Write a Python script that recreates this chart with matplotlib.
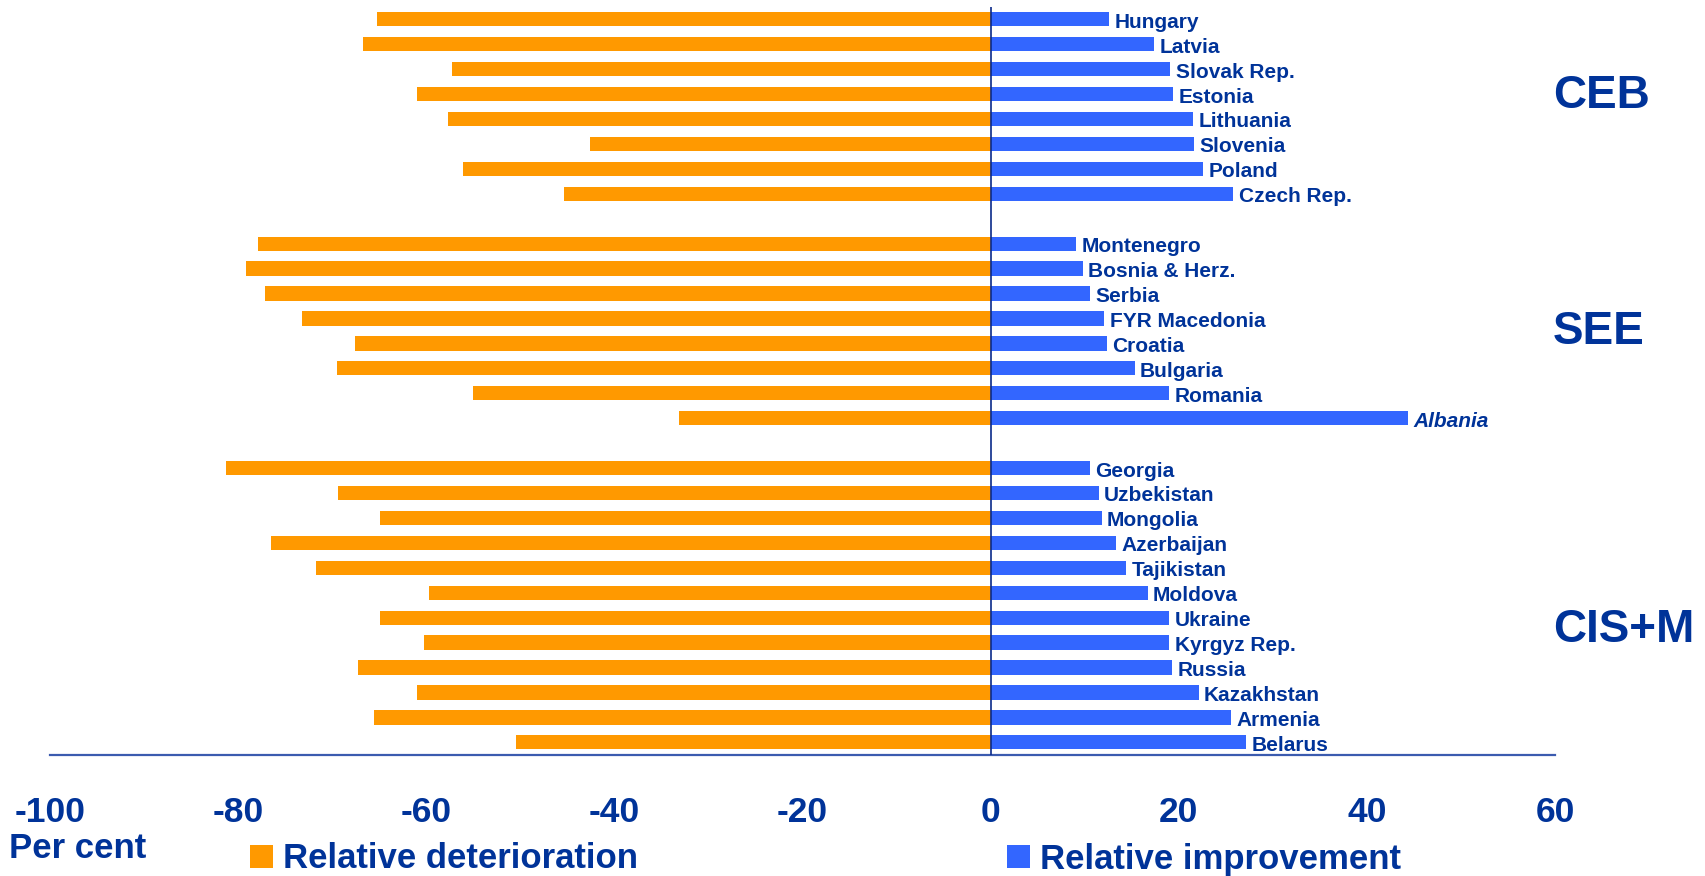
import matplotlib
matplotlib.use("Agg")
import matplotlib.pyplot as plt
import numpy as np

# ---- data ----
ceb_countries = ["Hungary", "Latvia", "Slovak Rep.", "Estonia", "Lithuania",
                 "Slovenia", "Poland", "Czech Rep."]
ceb_det = [-65.2, -66.7, -57.3, -61.0, -57.7, -42.6, -56.1, -45.4]
ceb_imp = [12.6, 17.4, 19.1, 19.4, 21.5, 21.6, 22.6, 25.8]

see_countries = ["Montenegro", "Bosnia & Herz.", "Serbia", "FYR Macedonia",
                 "Croatia", "Bulgaria", "Romania", "Albania"]
see_det = [-77.9, -79.2, -77.1, -73.2, -67.6, -69.5, -55.0, -33.1]
see_imp = [9.1, 9.8, 10.6, 12.1, 12.4, 15.3, 19.0, 44.4]

cis_countries = ["Georgia", "Uzbekistan", "Mongolia", "Azerbaijan", "Tajikistan",
                 "Moldova", "Ukraine", "Kyrgyz Rep.", "Russia", "Kazakhstan",
                 "Armenia", "Belarus"]
cis_det = [-81.3, -69.4, -64.9, -76.5, -71.7, -59.7, -64.9, -60.2, -67.3,
           -61.0, -65.6, -50.5]
cis_imp = [10.6, 11.5, 11.8, 13.3, 14.4, 16.7, 19.0, 19.0, 19.3, 22.1, 25.6, 27.2]

regions = ["CEB", "SEE", "CIS+M"]
italic_countries = ["Albania"]
xtick_values = [-100, -80, -60, -40, -20, 0, 20, 40, 60]
legend_labels = ["Relative deterioration", "Relative improvement"]
unit_label = "Per cent"

# ---- styling ----
ORANGE = "#FF9900"
BLUE = "#3366FF"
TEXT = "#003399"
plt.rcParams["font.family"] = ["Liberation Sans", "DejaVu Sans"]
plt.rcParams["font.weight"] = "bold"

W, H = 1705, 876
fig = plt.figure(figsize=(W / 100, H / 100), dpi=100)
ax = fig.add_axes([50 / W, 1 - 754.8 / H, 1505 / W, 748 / H])

groups = [(ceb_countries, ceb_det, ceb_imp),
          (see_countries, see_det, see_imp),
          (cis_countries, cis_det, cis_imp)]

names, det, imp, pos = [], [], [], []
start = 0
for cs, d, i in groups:
    names += cs
    det += d
    imp += i
    pos += list(range(start, start + len(cs)))
    start += len(cs) + 1

bh = 0.57
b_neg = ax.barh(pos, det, height=bh, color=ORANGE, zorder=2)
b_pos = ax.barh(pos, imp, height=bh, color=BLUE, zorder=2)

for p, v, n in zip(pos, imp, names):
    ax.annotate(n, xy=(v, p), xytext=(3.8, -6.1), textcoords="offset points",
                ha="left", va="baseline", fontsize=15, color=TEXT,
                fontweight="bold",
                fontstyle="italic" if n in italic_countries else "normal")

ax.axvline(0, color="#0A2A8A", lw=1.2, zorder=3)

region_rows = [3.54, 13.04, 24.96]
for r, y in zip(regions, region_rows):
    ax.text(59.8, y, r, ha="left", va="baseline", fontsize=33,
            color=TEXT, fontweight="bold", clip_on=False)

ax.set_xlim(-100, 60)
ax.set_ylim(29.5, -0.5)
ax.set_yticks([])
ax.set_xticks(xtick_values)
ax.set_xticklabels([str(v) for v in xtick_values], fontsize=25.5,
                   color=TEXT, fontweight="bold")
ax.tick_params(axis="x", length=0, pad=30)
for s in ["top", "right", "left"]:
    ax.spines[s].set_visible(False)
ax.spines["bottom"].set_color("#3B5BAF")
ax.spines["bottom"].set_linewidth(1.6)
ax.patch.set_alpha(0)

fig.text(9 / W, 1 - 858 / H, unit_label, ha="left", va="baseline",
         fontsize=25, color=TEXT, fontweight="bold")

leg_kw = dict(loc="center left", frameon=False, borderpad=0,
              borderaxespad=0, handlelength=0.66, handleheight=0.66,
              handletextpad=0.28, labelcolor=TEXT,
              prop={"weight": "bold", "size": 25})
leg1 = fig.legend([b_neg], [legend_labels[0]],
                  bbox_to_anchor=(250 / W, 1 - 859 / H), **leg_kw)
leg2 = fig.legend([b_pos], [legend_labels[1]],
                  bbox_to_anchor=(1007 / W, 1 - 859 / H), **leg_kw)

fig.savefig("out.png", dpi=100)
